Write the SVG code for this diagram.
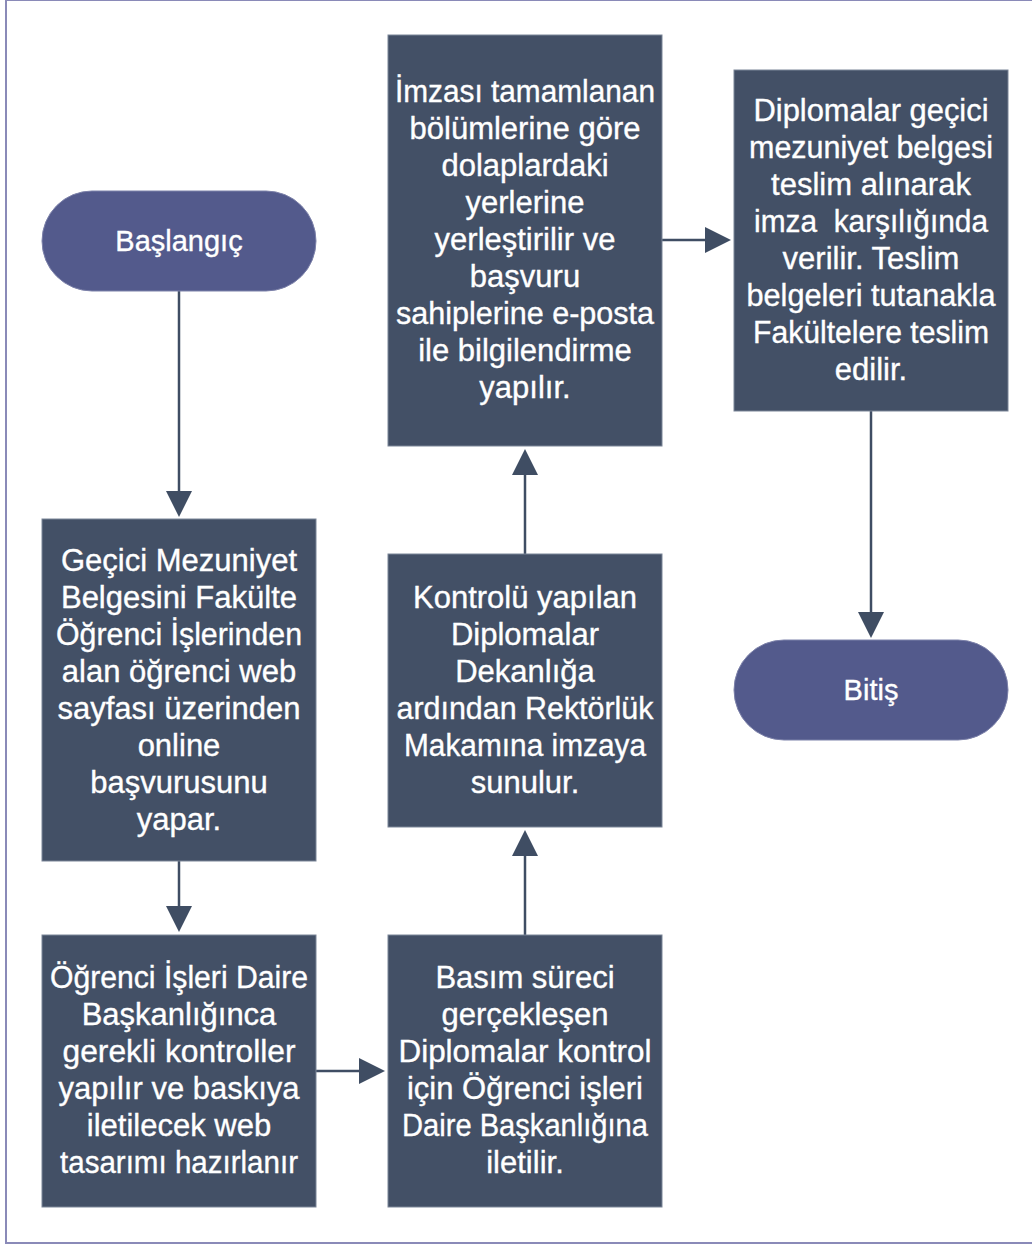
<svg xmlns="http://www.w3.org/2000/svg" width="1032" height="1245" viewBox="0 0 1032 1245">
<style>
.box{fill:#435066;stroke:#7b8597;stroke-width:1}
.pill{fill:#535a8c;stroke:#7d82aa;stroke-width:1}
.t{font-family:"Liberation Sans",Arial,sans-serif;font-size:31px;fill:#ffffff;stroke:#ffffff;stroke-width:0.35;text-anchor:middle}
.pt{font-family:"Liberation Sans",Arial,sans-serif;font-size:29px;fill:#ffffff;stroke:#ffffff;stroke-width:0.35;text-anchor:middle}
.c{stroke:#3f4d63;stroke-width:2.5;fill:none}
.h{fill:#3f4d63}
</style>
<rect x="0" y="0" width="1032" height="1245" fill="#ffffff"/>
<rect x="6" y="0" width="1100" height="1243" fill="none" stroke="#8a8ab8" stroke-width="2"/>
<g id="connectors">
<line class="c" x1="179" y1="291" x2="179" y2="495"/><polygon class="h" points="166,491 192,491 179,517"/>
<line class="c" x1="179" y1="861" x2="179" y2="910"/><polygon class="h" points="166,906 192,906 179,932"/>
<line class="c" x1="316" y1="1071" x2="362" y2="1071"/><polygon class="h" points="359,1058 359,1084 385,1071"/>
<line class="c" x1="525" y1="935" x2="525" y2="852"/><polygon class="h" points="512,856 538,856 525,830"/>
<line class="c" x1="525" y1="554" x2="525" y2="472"/><polygon class="h" points="512,475 538,475 525,449"/>
<line class="c" x1="662" y1="240" x2="708" y2="240"/><polygon class="h" points="705,227 705,253 731,240"/>
<line class="c" x1="871" y1="411" x2="871" y2="616"/><polygon class="h" points="858,612 884,612 871,638"/>
</g>
<g id="start">
<rect class="pill" x="42" y="191" width="274" height="100" rx="50"/>
<text class="pt" x="179" y="251">Başlangıç</text>
</g>
<g id="box1">
<rect class="box" x="42" y="519" width="274" height="342"/>
<text class="t" x="179"><tspan x="179" y="571">Geçici Mezuniyet</tspan><tspan x="179" y="608">Belgesini Fakülte</tspan><tspan x="179" y="645" textLength="246" lengthAdjust="spacingAndGlyphs">Öğrenci İşlerinden</tspan><tspan x="179" y="682">alan öğrenci web</tspan><tspan x="179" y="719">sayfası üzerinden</tspan><tspan x="179" y="756">online</tspan><tspan x="179" y="793">başvurusunu</tspan><tspan x="179" y="830">yapar.</tspan></text>
</g>
<g id="box2">
<rect class="box" x="42" y="935" width="274" height="272"/>
<text class="t" x="179"><tspan x="179" y="988" textLength="258" lengthAdjust="spacingAndGlyphs">Öğrenci İşleri Daire</tspan><tspan x="179" y="1025">Başkanlığınca</tspan><tspan x="179" y="1062" textLength="233" lengthAdjust="spacingAndGlyphs">gerekli kontroller</tspan><tspan x="179" y="1099">yapılır ve baskıya</tspan><tspan x="179" y="1136">iletilecek web</tspan><tspan x="179" y="1173" textLength="238" lengthAdjust="spacingAndGlyphs">tasarımı hazırlanır</tspan></text>
</g>
<g id="box3">
<rect class="box" x="388" y="935" width="274" height="272"/>
<text class="t" x="525"><tspan x="525" y="988">Basım süreci</tspan><tspan x="525" y="1025">gerçekleşen</tspan><tspan x="525" y="1062" textLength="253" lengthAdjust="spacingAndGlyphs">Diplomalar kontrol</tspan><tspan x="525" y="1099">için Öğrenci işleri</tspan><tspan x="525" y="1136" textLength="246" lengthAdjust="spacingAndGlyphs">Daire Başkanlığına</tspan><tspan x="525" y="1173">iletilir.</tspan></text>
</g>
<g id="box4">
<rect class="box" x="388" y="554" width="274" height="273"/>
<text class="t" x="525"><tspan x="525" y="608">Kontrolü yapılan</tspan><tspan x="525" y="645">Diplomalar</tspan><tspan x="525" y="682">Dekanlığa</tspan><tspan x="525" y="719" textLength="257" lengthAdjust="spacingAndGlyphs">ardından Rektörlük</tspan><tspan x="525" y="756" textLength="242" lengthAdjust="spacingAndGlyphs">Makamına imzaya</tspan><tspan x="525" y="793">sunulur.</tspan></text>
</g>
<g id="box5">
<rect class="box" x="388" y="35" width="274" height="411"/>
<text class="t" x="525"><tspan x="525" y="102" textLength="260" lengthAdjust="spacingAndGlyphs">İmzası tamamlanan</tspan><tspan x="525" y="139">bölümlerine göre</tspan><tspan x="525" y="176">dolaplardaki</tspan><tspan x="525" y="213">yerlerine</tspan><tspan x="525" y="250">yerleştirilir ve</tspan><tspan x="525" y="287">başvuru</tspan><tspan x="525" y="324" textLength="258" lengthAdjust="spacingAndGlyphs">sahiplerine e-posta</tspan><tspan x="525" y="361">ile bilgilendirme</tspan><tspan x="525" y="398">yapılır.</tspan></text>
</g>
<g id="box6">
<rect class="box" x="734" y="70" width="274" height="341"/>
<text class="t" x="871"><tspan x="871" y="121" textLength="235" lengthAdjust="spacingAndGlyphs">Diplomalar geçici</tspan><tspan x="871" y="158" textLength="244" lengthAdjust="spacingAndGlyphs">mezuniyet belgesi</tspan><tspan x="871" y="195">teslim alınarak</tspan><tspan x="871" y="232" xml:space="preserve" textLength="234" lengthAdjust="spacingAndGlyphs">imza  karşılığında</tspan><tspan x="871" y="269">verilir. Teslim</tspan><tspan x="871" y="306" textLength="249" lengthAdjust="spacingAndGlyphs">belgeleri tutanakla</tspan><tspan x="871" y="343" textLength="236" lengthAdjust="spacingAndGlyphs">Fakültelere teslim</tspan><tspan x="871" y="380">edilir.</tspan></text>
</g>
<g id="end">
<rect class="pill" x="734" y="640" width="274" height="100" rx="50"/>
<text class="pt" x="871" y="700">Bitiş</text>
</g>
</svg>
